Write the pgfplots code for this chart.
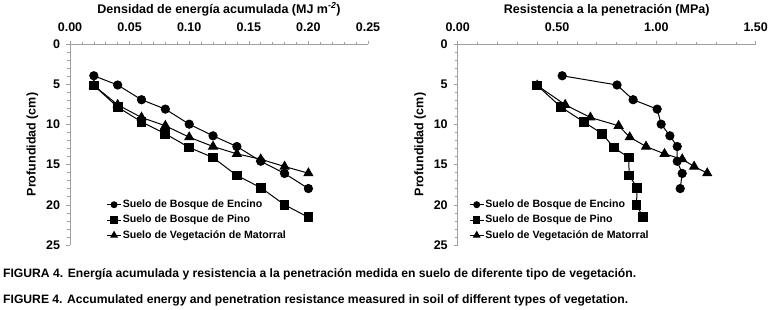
\documentclass[border=0pt]{standalone}
\usepackage{pgfplots}
\pgfplotsset{compat=1.18}
\usepackage{fontspec}
\setmainfont{Liberation Sans}
\definecolor{axgray}{RGB}{160,160,160}

\begin{document}
\begin{tikzpicture}
\path[use as bounding box] (0pt,0pt) rectangle (770pt,309pt);
\pgfplotsset{
  myaxis/.style={
    scale only axis, width=298pt, height=201pt,
    y dir=reverse, ymin=0, ymax=25, ytick={0,5,...,25},
    minor x tick num=4, minor y tick num=4,
    axis x line=top, axis y line=left,
    axis line style={axgray, line width=0.8pt, -},
    every tick/.style={axgray, line width=0.6pt},
    tick align=outside,
    major tick length=3.5pt, minor tick length=2.5pt,
    /pgf/number format/assume math mode=true,
    tick label style={font=\bfseries\fontsize{12.5}{14}\selectfont, black},
    x tick label style={yshift=5pt, /pgf/number format/.cd, fixed, fixed zerofill, precision=2},
    y tick label style={xshift=-3pt},
    ylabel={Profundidad (cm)},
    ylabel style={font=\bfseries\fontsize{12.5}{14}\selectfont, at={(axis description cs:0,0.5)}, anchor=center, yshift=37.5pt},
    title style={font=\bfseries\fontsize{12.5}{14}\selectfont, at={(axis description cs:0.5,1)}, anchor=base, yshift=25pt},
    legend cell align=left,
    legend style={draw=none, fill=none, inner sep=0pt, font=\bfseries\fontsize{10.6}{12}\selectfont, row sep=3pt,
      nodes={inner xsep=1.2pt, inner ysep=1pt, text height=8pt, text depth=2.3pt}},
    legend image code/.code={\draw[mark indices={2}, every mark/.append style={scale=0.72}] plot coordinates {(0pt,0pt) (7pt,0pt) (14pt,0pt)};},
    every axis plot/.append style={black, line width=1pt},
  },
  encino/.style={mark=*, mark size=4.1pt},
  pino/.style={mark=square*, mark size=4.4pt},
  mato/.style={mark=triangle*, mark size=5pt},
}
\begin{axis}[myaxis, at={(70pt,64pt)}, anchor=south west,
  xmin=0, xmax=0.25, xtick={0,0.05,...,0.25},
  title={Densidad de energía acumulada (MJ m\textsuperscript{\itshape -2})},
  legend style={at={(axis description cs:0.122,0.232)}, anchor=north west}]
\addplot[encino] coordinates {(0.02,3.95) (0.04,5.1) (0.06,6.93) (0.08,8.1) (0.10,9.97) (0.12,11.42) (0.14,12.75) (0.16,14.58) (0.18,16.1) (0.20,17.98)};
\addplot[pino] coordinates {(0.02,5.15) (0.04,7.85) (0.06,9.68) (0.08,11.17) (0.10,12.87) (0.12,14.12) (0.14,16.36) (0.16,17.86) (0.18,20.0) (0.20,21.55)};
\addplot[mato] coordinates {(0.02,5.15) (0.04,7.56) (0.06,9.14) (0.08,10.17) (0.10,11.59) (0.12,12.75) (0.14,13.66) (0.16,14.33) (0.18,15.24) (0.20,16.07)};
\legend{Suelo de Bosque de Encino, Suelo de Bosque de Pino, Suelo de Vegetación de Matorral}
\end{axis}
\begin{axis}[myaxis, at={(457.7pt,64pt)}, anchor=south west,
  xmin=0, xmax=1.5, xtick={0,0.5,...,1.5},
  title={Resistencia a la penetración (MPa)},
  legend style={at={(axis description cs:0.038,0.232)}, anchor=north west}]
\addplot[encino] coordinates {(0.526,3.95) (0.802,5.1) (0.883,6.93) (1.004,8.1) (1.024,9.97) (1.068,11.42) (1.105,12.75) (1.105,14.58) (1.13,16.1) (1.12,17.98)};
\addplot[pino] coordinates {(0.40,5.15) (0.52,7.85) (0.634,9.68) (0.728,11.17) (0.785,12.87) (0.861,14.12) (0.863,16.36) (0.903,17.86) (0.90,20.0) (0.933,21.55)};
\addplot[mato] coordinates {(0.40,5.15) (0.541,7.56) (0.668,9.14) (0.81,10.17) (0.866,11.59) (0.948,12.75) (1.041,13.66) (1.13,14.33) (1.19,15.24) (1.256,16.07)};
\legend{Suelo de Bosque de Encino, Suelo de Bosque de Pino, Suelo de Vegetación de Matorral}
\end{axis}
\node[anchor=base west, inner sep=0pt] at (3pt,32pt) {\resizebox{633pt}{!}{\bfseries FIGURA 4. Energía acumulada y resistencia a la penetración medida en suelo de diferente tipo de vegetación.}};
\node[anchor=base west, inner sep=0pt] at (3pt,5.5pt) {\resizebox{625pt}{!}{\bfseries FIGURE 4. Accumulated energy and penetration resistance measured in soil of different types of vegetation.}};
\end{tikzpicture}
\end{document}
